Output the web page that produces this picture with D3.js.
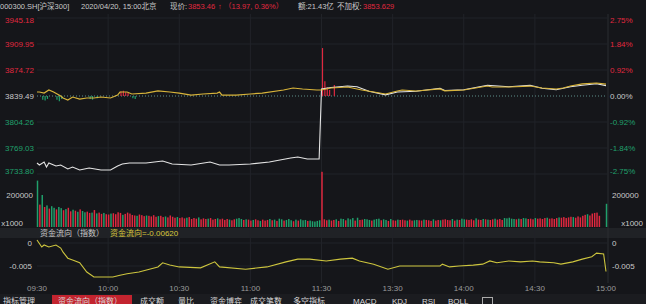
<!DOCTYPE html>
<html>
<head>
<meta charset="utf-8">
<script src="https://cdn.jsdelivr.net/npm/d3@7"></script>
<style>
body { margin: 0; background: #15161a; }
svg { display: block; font-family: "Liberation Sans", Arial, "Noto Sans CJK SC", sans-serif; }
</style>
</head>
<body>
<svg id="chart" width="646" height="304"></svg>
<script>
// 昨收 / ticks
const prevClose = 3839.49;
const priceTicks = [3945.18, 3909.95, 3874.72, 3839.49, 3804.26, 3769.03, 3733.80];
const pctTicks = ["2.75%", "1.84%", "0.92%", "0.00%", "-0.92%", "-1.84%", "-2.75%"];
const timeLabels = ["09:30", "10:00", "10:30", "11:00", "11:30", "13:30", "14:00", "14:30", "15:00"];

// 分钟序号(0 = 09:30, 120 = 11:30/13:00, 240 = 15:00), 价格
const yellowLine = [
  [0, 3844.9], [1, 3844.9], [3, 3843.5], [5, 3847.6], [7, 3844.9], [10, 3839.5], [11, 3836.8],
  [13, 3834.1], [15, 3838.1], [18, 3835.4], [21, 3836.8], [24, 3836.8], [27, 3838.1], [31, 3836.8],
  [34, 3840.8], [35, 3844.9], [38, 3844.9], [40, 3842.2], [46, 3843.5], [51, 3846.3], [56, 3844.9],
  [60, 3843.5], [65, 3840.8], [70, 3842.2], [76, 3843.5], [77, 3844.9], [78, 3840.8], [84, 3840.8],
  [90, 3842.2], [95, 3843.5], [104, 3847.6], [108, 3850.3], [112, 3849.0], [118, 3847.6], [120, 3847.6],
  [124, 3850.3], [131, 3851.7], [137, 3847.6], [142, 3844.9], [147, 3842.2], [152, 3846.3], [154, 3847.6],
  [160, 3846.3], [170, 3849.0], [172, 3846.3], [180, 3847.6], [190, 3853.0], [192, 3851.7], [199, 3851.7],
  [208, 3853.0], [213, 3850.3], [219, 3849.0], [222, 3850.3], [225, 3853.0], [230, 3855.8], [236, 3857.1],
  [240, 3855.6]
];
const whiteLine = [
  [0, 3748.7], [1, 3746.0], [3, 3750.1], [4, 3743.3], [5, 3748.7], [8, 3744.6], [10, 3746.0],
  [13, 3740.6], [15, 3743.3], [18, 3739.2], [22, 3741.9], [27, 3739.2], [31, 3739.2], [34, 3744.6],
  [36, 3747.3], [39, 3748.7], [46, 3748.7], [53, 3751.4], [57, 3747.3], [65, 3746.0], [73, 3750.1],
  [77, 3746.0], [81, 3746.0], [90, 3747.3], [98, 3750.1], [107, 3755.5], [110, 3756.8], [114, 3754.1],
  [119, 3754.1], [120, 3849.0], [124, 3851.0], [131, 3853.0], [135, 3852.0], [140, 3846.0], [147, 3841.0],
  [152, 3845.0], [160, 3846.0], [170, 3850.0], [172, 3847.0], [180, 3848.0], [190, 3854.0], [199, 3852.0],
  [208, 3854.0], [213, 3850.0], [219, 3848.0], [225, 3852.0], [230, 3854.0], [236, 3856.0], [240, 3853.5]
];
// 涨跌柱 (相对昨收)
const strengthBars = [
  [2, -5], [3, -6], [4, -4], [8, -5], [9, -7], [10, -4], [22, -4], [23, -5], [25, -3],
  [35, 6], [36, 7], [37, 5], [38, 4], [40, -3], [41, -4],
  [120, 65], [121, 20], [122, 12], [123, 8], [125, 15]
];

// 成交量 (x1000, 单位千), 正 = 红, 负 = 绿
const volumeK = [
  -290, 140, -200, 125, -135, 115, -130, -120, 110, -125,
  -118, 105, -112, 120, 98, -108, 102, -95, 110, -100,
  -92, 96, 88, -90, 106, -85, 90, 82, -88, 80,
  78, -84, 86, 80, 92, 88, -76, 82, 90, 84,
  75, 72, -70, 78, 74, 68, -72, 70, 66, 74,
  64, -68, 70, 62, -66, 60, 72, 64, 58, -62,
  56, 60, 54, -58, 62, 50, 56, 52, -60, 48,
  54, 50, -52, 56, 46, 50, -54, 48, 52, 44,
  50, -46, 42, 48, -52, -56, -50, 44, -48, 46,
  40, -44, 48, 42, -38, 46, 40, 44, -50, 42,
  -46, 38, -52, -48, 40, -44, -50, -42, 36, -46,
  40, -48, -42, -44, 38, -40, -36, -34, -38, -42,
  345,
  48, 42, -46, 40, 44, -48, 38, -52, -50, 42,
  -54, -48, -56, 40, -58, 44, 46, -50, -48, -44,
  40, -46, -50, -52, 42, -48, -44, 38, -50, 42,
  40, -46, 44, 46, 42, -40, 46, 40, -42, -44,
  42, 40, -46, 44, 42, 38, -48, 40, 44, -42,
  46, 48, 44, 42, -50, 40, -46, 44, -52, -48,
  46, 44, 48, 42, -54, 46, 44, -50, 48, -46,
  44, 48, -52, 46, 50, 44, -56, -54, -58, -52,
  -50, 48, -52, 50, -56, -54, 50, 52, 48, -56,
  52, 54, 50, 56, -58, 52, 54, 50, 56, -60,
  58, 62, 56, 60, 64, -62, 58, 66, 60, 70,
  76, -80, 72, 84, 88, 90, 70, 0, 0, -145
];

// 资金流向
const flowLine = [
  [0, 0.00065], [2, -0.00087], [3, -0.00043], [5, -0.00087], [8, -0.00043], [10, -0.0011], [11, -0.0020],
  [13, -0.0033], [15, -0.0037], [18, -0.0043], [21, -0.0063], [24, -0.0074], [27, -0.0074], [32, -0.0074],
  [35, -0.0070], [38, -0.0067], [43, -0.0063], [51, -0.0052], [53, -0.0043], [56, -0.0048], [60, -0.0052],
  [69, -0.0054], [75, -0.0041], [77, -0.0052], [88, -0.0057], [97, -0.0052], [105, -0.0041], [110, -0.0035],
  [115, -0.0035], [122, -0.0039], [128, -0.0035], [133, -0.0033], [136, -0.0039], [142, -0.0046],
  [148, -0.0057], [153, -0.0050], [160, -0.0050], [170, -0.0050], [171, -0.0046], [174, -0.0052],
  [178, -0.0050], [184, -0.0048], [188, -0.0046], [191, -0.0039], [194, -0.0043], [199, -0.0039],
  [204, -0.0041], [209, -0.0039], [212, -0.0041], [218, -0.0043], [221, -0.0046], [226, -0.0041],
  [230, -0.0035], [234, -0.0030], [236, -0.0022], [239, -0.0024], [240, -0.0062]
];
const flowTicks = [0, -0.005];

const RED = "#e0283f", GREEN = "#20a06c", TXT = "#c9c9c9", GRID = "#212328";

const svg = d3.select("#chart");

const x = d3.scaleLinear().domain([0, 240]).range([37, 606]);
const yPrice = d3.scaleLinear().domain([3733.80, 3945.18]).range([174, 18]);
const yVol = d3.scaleLinear().domain([0, 200000]).range([227, 195]);
const yFlow = d3.scaleLinear().domain([-0.005, 0]).range([266, 243]);

// panels / strips
svg.append("rect").attr("x", 0).attr("y", 228).attr("width", 646).attr("height", 10).attr("fill", "#202226");
svg.append("rect").attr("x", 0).attr("y", 294).attr("width", 646).attr("height", 10).attr("fill", "#1b1c20");
svg.append("line").attr("x1", 608).attr("x2", 608).attr("y1", 14).attr("y2", 283).attr("stroke", "#2a2c31");

// vertical grid
const timeIdx = d3.range(0, 241, 30);
svg.append("g").selectAll("line").data(timeIdx.slice(1, -1)).enter().append("line")
  .attr("x1", d => x(d)).attr("x2", d => x(d))
  .attr("y1", 14).attr("y2", 283)
  .attr("stroke", GRID);

// horizontal grid (price)
svg.append("g").selectAll("line").data(priceTicks).enter().append("line")
  .attr("x1", 37).attr("x2", 608)
  .attr("y1", d => yPrice(d)).attr("y2", d => yPrice(d))
  .attr("stroke", d => d === prevClose ? "none" : GRID);

// price axis labels
const tickColor = d => d > prevClose ? RED : (d < prevClose ? GREEN : TXT);
svg.append("g").selectAll("text").data(priceTicks).enter().append("text")
  .attr("x", 34).attr("y", d => Math.min(Math.max(yPrice(d), 19.5), 171) + 3)
  .attr("text-anchor", "end").attr("font-size", 8)
  .attr("fill", tickColor)
  .text(d => d.toFixed(2));
svg.append("g").selectAll("text").data(priceTicks).enter().append("text")
  .attr("x", 610).attr("y", d => Math.min(Math.max(yPrice(d), 19.5), 171) + 3)
  .attr("font-size", 8)
  .attr("fill", tickColor)
  .text((d, i) => pctTicks[i]);

// 0% dotted line
svg.append("line")
  .attr("x1", x(0)).attr("x2", x(240))
  .attr("y1", yPrice(prevClose)).attr("y2", yPrice(prevClose))
  .attr("stroke", "#5f8f8a").attr("stroke-dasharray", "1,2");

// strength bars
svg.append("g").selectAll("line").data(strengthBars).enter().append("line")
  .attr("x1", d => x(d[0]) + 1).attr("x2", d => x(d[0]) + 1)
  .attr("y1", yPrice(prevClose)).attr("y2", d => yPrice(prevClose + d[1]))
  .attr("stroke", d => d[1] > 0 ? RED : GREEN).attr("stroke-width", 1.2);

// price lines
const line = d3.line().x(d => x(d[0]));
svg.append("path").datum(whiteLine)
  .attr("d", line.y(d => yPrice(d[1])))
  .attr("fill", "none").attr("stroke", "#e4e4e4").attr("stroke-width", 1.1);
svg.append("path").datum(yellowLine)
  .attr("d", line.y(d => yPrice(d[1])))
  .attr("fill", "none").attr("stroke", "#d8b43a").attr("stroke-width", 1.2);

// volume
const volume = volumeK.map((v, i) => ({ i: i, v: Math.abs(v) * 1000, up: v > 0 }));
const bw = (x(1) - x(0)) * 0.62;
svg.append("g").selectAll("rect").data(volume).enter().append("rect")
  .attr("x", d => x(d.i) - bw / 2 + 0.5)
  .attr("y", d => yVol(d.v))
  .attr("width", bw)
  .attr("height", d => yVol(0) - yVol(d.v))
  .attr("fill", d => d.up ? RED : GREEN);

svg.append("text").attr("x", 33).attr("y", yVol(200000) + 3).attr("text-anchor", "end")
  .attr("font-size", 8).attr("fill", TXT).text("200000");
svg.append("text").attr("x", 23).attr("y", 226).attr("text-anchor", "end")
  .attr("font-size", 8).attr("fill", TXT).text("x1000");
svg.append("text").attr("x", 612).attr("y", yVol(200000) + 3)
  .attr("font-size", 8).attr("fill", TXT).text("200000");
svg.append("text").attr("x", 643).attr("y", 226).attr("text-anchor", "end")
  .attr("font-size", 8).attr("fill", TXT).text("x1000");

// flow strip label
const lastFlow = flowLine[flowLine.length - 1][1];
svg.append("text").attr("x", 40).attr("y", 236).attr("font-size", 8).attr("fill", TXT).text("资金流向（指数）");
svg.append("text").attr("x", 110).attr("y", 236).attr("font-size", 8).attr("fill", "#d9c83c")
  .text("资金流向=" + lastFlow.toFixed(5));

// flow panel
svg.append("g").selectAll("line").data(flowTicks).enter().append("line")
  .attr("x1", 37).attr("x2", 608)
  .attr("y1", d => yFlow(d)).attr("y2", d => yFlow(d))
  .attr("stroke", GRID);
svg.append("g").selectAll("text").data(flowTicks).enter().append("text")
  .attr("x", 32).attr("y", d => yFlow(d) + 3).attr("text-anchor", "end")
  .attr("font-size", 8).attr("fill", TXT).text(d => d === 0 ? "0" : d.toFixed(3));
svg.append("g").selectAll("text").data(flowTicks).enter().append("text")
  .attr("x", 612).attr("y", d => yFlow(d) + 3)
  .attr("font-size", 8).attr("fill", TXT).text(d => d === 0 ? "0" : d.toFixed(3));
svg.append("path").datum(flowLine)
  .attr("d", line.y(d => yFlow(d[1])))
  .attr("fill", "none").attr("stroke", "#cdc53e").attr("stroke-width", 1.1);

// time axis
svg.append("g").selectAll("text").data(timeIdx).enter().append("text")
  .attr("x", d => x(d)).attr("y", 291).attr("text-anchor", "middle")
  .attr("font-size", 8).attr("fill", "#9a9a9a")
  .text((d, i) => timeLabels[i]);

// header
const header = [
  [0, "000300.SH[沪深300]", TXT], [81, "2020/04/20, 15:00北京", TXT], [170, "现价:", TXT],
  [188, "3853.46", RED], [218, "↑", RED], [224, "（13.97, 0.36%）", RED],
  [298, "额:21.43亿", TXT], [337, "不加权:", TXT], [363, "3853.629", RED]
];
svg.append("g").selectAll("text").data(header).enter().append("text")
  .attr("x", d => d[0]).attr("y", 9).attr("font-size", 7.5)
  .attr("fill", d => d[2]).text(d => d[1]);

// bottom tabs
svg.append("rect").attr("x", 52).attr("y", 295).attr("width", 80).attr("height", 9).attr("fill", "#c3242f");
const tabs = [
  [3, "指标管理"], [58, "资金流向（指数）"], [140, "成交额"], [178, "量比"], [210, "资金博弈"],
  [250, "成交笔数"], [293, "多空指标"], [353, "MACD"], [392, "KDJ"], [422, "RSI"], [448, "BOLL"]
];
svg.append("g").selectAll("text").data(tabs).enter().append("text")
  .attr("x", d => d[0]).attr("y", 303.5).attr("font-size", 8).attr("fill", "#d8d8d8")
  .text(d => d[1]);
svg.append("rect").attr("x", 482.5).attr("y", 297.5).attr("width", 10).attr("height", 9)
  .attr("fill", "none").attr("stroke", "#aaa");
</script>
</body>
</html>
